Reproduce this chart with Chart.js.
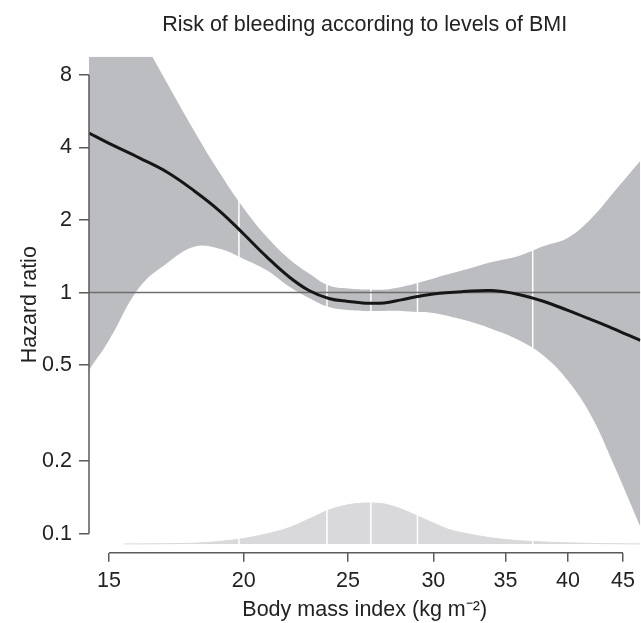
<!DOCTYPE html>
<html>
<head>
<meta charset="utf-8">
<script src="https://cdn.jsdelivr.net/npm/chart.js@4.4.1/dist/chart.umd.min.js"></script>
<style>
html, body { margin: 0; padding: 0; background: #fff; }
canvas { display: block; }
</style>
</head>
<body>
<canvas id="canvasGrafico" width="641" height="623"></canvas>
<script>
// curva do hazard ratio e intervalo de confianca
var bmi = [14.37, 15, 16, 17, 18, 19, 20, 21, 22, 23, 24, 25, 26, 27, 28, 29, 30, 32, 34, 36, 38, 40, 42, 44, 46.7]
var hazardRatio = [4.59, 4.16, 3.62, 3.15, 2.64, 2.18, 1.75, 1.41, 1.17, 1.02, 0.946, 0.919, 0.904, 0.906, 0.933, 0.963, 0.988, 1.01, 1.02, 0.983, 0.919, 0.844, 0.774, 0.711, 0.634]
var upperCI = [26.9, 19.5, 11.9, 7.33, 4.67, 3.14, 2.24, 1.71, 1.39, 1.20, 1.07, 1.04, 1.03, 1.03, 1.056, 1.097, 1.145, 1.24, 1.34, 1.42, 1.56, 1.69, 2.02, 2.57, 3.52]
var lowerCI = [0.478, 0.635, 1.05, 1.33, 1.55, 1.52, 1.38, 1.24, 1.066, 0.951, 0.872, 0.848, 0.84, 0.84, 0.84, 0.832, 0.824, 0.771, 0.707, 0.636, 0.546, 0.431, 0.311, 0.199, 0.107]

// distribuicao do BMI (densidade relativa)
var densityBmi = [15.5, 17, 18, 19, 20, 21, 22, 23, 24, 25, 26, 27, 28, 29, 30, 31, 32, 34, 36, 38, 40, 43, 46.7]
var density = [0, 0.0006, 0.0016, 0.005, 0.0109, 0.0199, 0.0318, 0.0496, 0.0675, 0.0778, 0.0814, 0.0794, 0.0695, 0.0556, 0.0417, 0.0288, 0.0218, 0.0119, 0.0066, 0.004, 0.0022, 0.0008, 0]

// knots do spline
var knots = [19.8, 23.9, 26.25, 29.0, 37.1]

var xTicks = [15, 20, 25, 30, 35, 40, 45]
var yTicks = [0.1, 0.2, 0.5, 1, 2, 4, 8]
var xRange = [14.37, 46.7]
var yRange = [0.0834, 9.52]
var densityRange = [-0.0173, 0.967]

var fonte = '"Liberation Sans", Arial, Helvetica, sans-serif'
var tamanhoFonte = 21.5
var corTexto = '#222'
var corEixo = '#5a5a5a'

function pontos(xs, ys){
    return xs.map((x, i) => ({ x: x, y: ys[i] }))
}

var datasets = []

datasets.push({
    label: 'Hazard ratio',
    data: pontos(bmi, hazardRatio),
    borderColor: '#161616',
    borderWidth: 3,
    tension: 0.4
})

datasets.push({
    label: 'referencia',
    data: pontos(xRange, [1, 1]),
    borderColor: '#6e6e6e',
    borderWidth: 1.5
})

knots.forEach((k) => {
    datasets.push({
        label: 'knot',
        data: pontos([k, k], yRange),
        borderColor: '#ffffff',
        borderWidth: 1.5
    })
})

datasets.push({
    label: 'densidade',
    data: pontos(densityBmi, density),
    yAxisID: 'yd',
    fill: 'origin',
    backgroundColor: '#d9d9db',
    borderColor: '#d9d9db',
    borderWidth: 1,
    cubicInterpolationMode: 'monotone'
})

datasets.push({
    label: 'IC superior',
    data: pontos(bmi, upperCI),
    fill: '+1',
    backgroundColor: '#bcbdc0',
    borderWidth: 0,
    tension: 0.4
})

datasets.push({
    label: 'IC inferior',
    data: pontos(bmi, lowerCI),
    borderWidth: 0,
    tension: 0.4
})

// linhas dos eixos no estilo R (so entre o primeiro e o ultimo tick)
var eixosR = {
    id: 'eixosR',
    afterDraw: function(chart){
        var c = chart.ctx
        var x = chart.scales.x
        var y = chart.scales.y
        c.save()
        c.strokeStyle = corEixo
        c.lineWidth = 1.5
        c.beginPath()
        c.moveTo(x.getPixelForValue(xTicks[0]), x.top)
        c.lineTo(x.getPixelForValue(xTicks[xTicks.length - 1]), x.top)
        c.moveTo(y.right, y.getPixelForValue(yTicks[0]))
        c.lineTo(y.right, y.getPixelForValue(yTicks[yTicks.length - 1]))
        c.stroke()
        c.restore()
    }
}

var ctx = document.getElementById('canvasGrafico').getContext('2d')

var chart = new Chart(ctx, {
    type: 'line',
    data: { datasets: datasets },
    plugins: [eixosR],
    options: {
        responsive: false,
        animation: false,
        devicePixelRatio: 1,
        elements: { point: { radius: 0 } },
        layout: { padding: 0 },
        plugins: {
            legend: { display: false },
            tooltip: { enabled: false },
            title: {
                display: true,
                text: 'Risk of bleeding according to levels of BMI',
                fullSize: false,
                color: corTexto,
                font: { family: fonte, size: tamanhoFonte, weight: 'normal' },
                padding: { top: 12, bottom: 18.9 }
            }
        },
        scales: {
            x: {
                type: 'logarithmic',
                min: xRange[0],
                max: xRange[1],
                afterBuildTicks: function(s){ s.ticks = xTicks.map(v => ({ value: v })) },
                afterFit: function(s){ s.height = 70.3 },
                border: { display: false },
                grid: { drawOnChartArea: false, drawTicks: true, tickLength: 9, color: corEixo, lineWidth: 1.5 },
                ticks: {
                    autoSkip: false, maxRotation: 0, padding: 6,
                    color: corTexto,
                    font: { family: fonte, size: tamanhoFonte },
                    callback: function(v){ return String(v) }
                },
                title: {
                    display: true,
                    text: 'Body mass index (kg m\u207B\u00B2)',
                    color: corTexto,
                    font: { family: fonte, size: tamanhoFonte },
                    padding: 0
                }
            },
            y: {
                type: 'logarithmic',
                min: yRange[0],
                max: yRange[1],
                afterBuildTicks: function(s){ s.ticks = yTicks.map(v => ({ value: v })) },
                afterFit: function(s){ s.width = 89 },
                border: { display: false },
                grid: { drawOnChartArea: false, drawTicks: true, tickLength: 10, color: corEixo, lineWidth: 1.5 },
                ticks: {
                    autoSkip: false, padding: 7,
                    color: corTexto,
                    font: { family: fonte, size: tamanhoFonte },
                    callback: function(v){ return String(v) }
                },
                title: {
                    display: true,
                    text: 'Hazard ratio',
                    color: corTexto,
                    font: { family: fonte, size: tamanhoFonte },
                    padding: { top: 17, bottom: 0 }
                }
            },
            yd: {
                type: 'linear',
                display: false,
                min: densityRange[0],
                max: densityRange[1]
            }
        }
    }
})
</script>
</body>
</html>
